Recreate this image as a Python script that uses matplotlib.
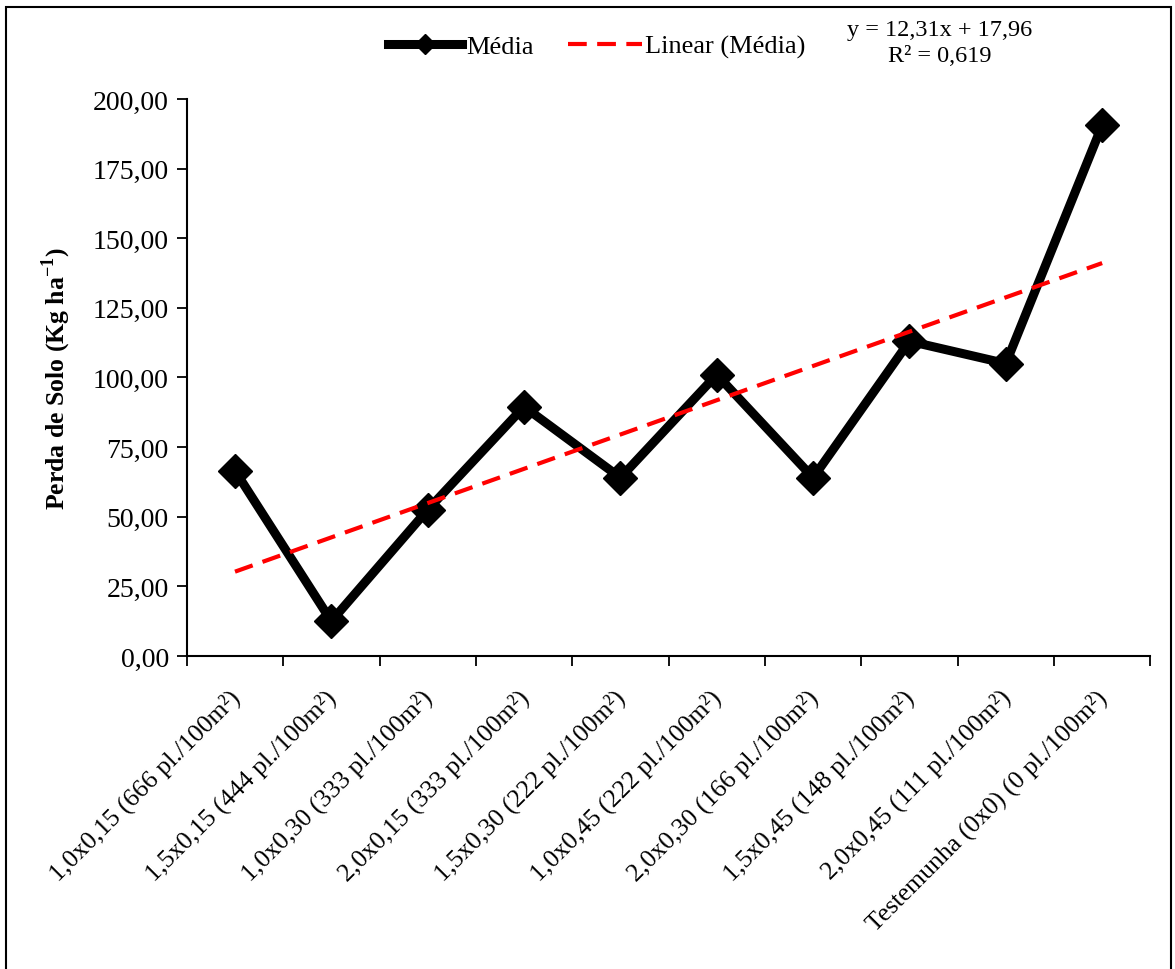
import numpy as np
import matplotlib
matplotlib.use('Agg')
import matplotlib.pyplot as plt
from matplotlib.patches import Rectangle
# ------------------------------ #

plt.rcParams['font.family'] = ['Liberation Serif', 'DejaVu Serif']
plt.rcParams['mathtext.fontset'] = 'custom'
plt.rcParams['mathtext.rm'] = 'Liberation Serif'
plt.rcParams['mathtext.bf'] = 'Liberation Serif:bold'

categories = [
	'1,0x0,15 (666 pl./100m²)',
	'1,5x0,15 (444 pl./100m²)',
	'1,0x0,30 (333 pl./100m²)',
	'2,0x0,15 (333 pl./100m²)',
	'1,5x0,30 (222 pl./100m²)',
	'1,0x0,45 (222 pl./100m²)',
	'2,0x0,30 (166 pl./100m²)',
	'1,5x0,45 (148 pl./100m²)',
	'2,0x0,45 (111 pl./100m²)',
	'Testemunha (0x0) (0 pl./100m²)',
]
media = [66.5, 12.5, 52.5, 89.5, 64.0, 101.0, 64.0, 113.0, 105.0, 190.5]
slope = 12.31
intercept = 17.96
r2 = 0.619
# ------------------------------ #

fig = plt.figure(figsize = (11.75, 9.7), dpi = 100)
ax = fig.add_axes([0.159, 0.3227, 0.82, 0.5743])

x = np.arange(1, len(media) + 1)
trend = slope * x + intercept

ax.plot(x, media, color = 'black', lw = 6.5, marker = 'D', markersize = 17,
	label = 'Média', zorder = 3)
ax.plot(x, trend, color = '#ff0000', lw = 3, dashes = (4.5, 2.5),
	label = 'Linear (Média)', zorder = 4)

ax.set_xlim(0.5, len(media) + 0.5)
ax.set_ylim(0, 200)
ax.set_yticks(np.arange(0, 201, 25))
ax.set_yticklabels([f'{v:.2f}'.replace('.', ',') for v in np.arange(0, 201, 25)], fontsize = 20)

# boundary ticks as major, labels on minor ticks at category centres
ax.set_xticks(np.arange(0.5, len(media) + 1, 1))
ax.set_xticklabels([])
ax.set_xticks(x, minor = True)
ax.set_xticklabels(categories, minor = True, rotation = 45, ha = 'right',
	rotation_mode = 'anchor', fontsize = 18.5)
ax.tick_params(axis = 'x', which = 'minor', length = 0, pad = 21)
ax.tick_params(axis = 'x', which = 'major', length = 7, width = 1.3, direction = 'out')
ax.tick_params(axis = 'y', length = 7, width = 1.3, direction = 'out', pad = 6)
for lbl in ax.get_xticklabels(minor = True):
	lbl.set_transform(lbl.get_transform() + matplotlib.transforms.ScaledTranslation(-0.07, 0, fig.dpi_scale_trans))

for s in ['top', 'right']:
	ax.spines[s].set_visible(False)
for s in ['left', 'bottom']:
	ax.spines[s].set_linewidth(1.5)

ax.set_ylabel('Perda de Solo (Kg ha$^{\\mathbf{-1}}$)', fontsize = 18.5, fontweight = 'bold', labelpad = 14)

fig.legend(loc = 'center', bbox_to_anchor = (0.508, 0.951), ncol = 2, frameon = False,
	fontsize = 19, handlelength = 2.8, columnspacing = 1.3, handletextpad = 0.15, markerscale = 0.6)

fig.text(0.8, 0.955, f'y = {slope:.2f}x + {intercept:.2f}\nR² = {r2:.3f}'.replace('.', ','),
	ha = 'center', va = 'center', fontsize = 17.5, linespacing = 1.3)

fig.patches.append(Rectangle((0.005, -0.1), 0.992, 1.092, transform = fig.transFigure,
	fill = False, edgecolor = 'black', lw = 1.5))

plt.savefig('out.png', format = 'png')
